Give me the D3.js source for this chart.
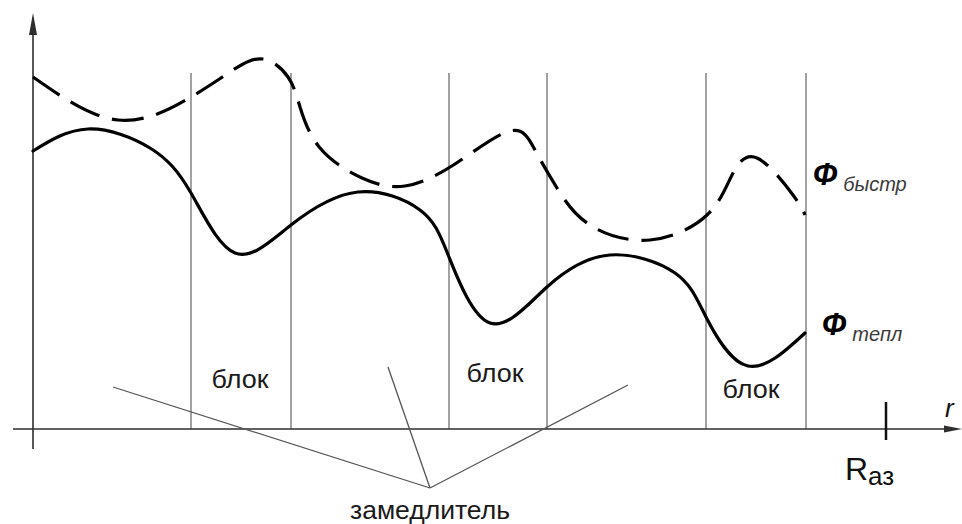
<!DOCTYPE html>
<html>
<head>
<meta charset="utf-8">
<script src="https://cdn.jsdelivr.net/npm/d3@7"></script>
<style>
  html, body { margin: 0; padding: 0; background: #fff; }
  svg { display: block; }
  text { font-family: "Liberation Sans", Arial, sans-serif; }
</style>
</head>
<body>
<svg id="chart" width="962" height="524"></svg>
<script>
// ---- data (arbitrary units: r along axis, flux upward) ----
const blockEdges = [158, 258, 416, 514, 673, 773];          // r positions of block boundaries
const blockLabelR = [207, 462, 718];                          // r of "блок" labels
const blockLabelFlux = [41, 47, 31];
const rAz = 853;                                              // reactor core radius tick
const thermalR    = [0, 55, 117, 158, 202, 258, 325, 387, 416, 457, 514, 577, 642, 673, 715, 772];
const thermalFlux = [278, 300, 281, 236, 176, 204, 237, 219, 172, 106, 142, 174, 156, 112, 63, 96];
const fastR    = [0, 85, 158, 200, 230, 255, 267, 287, 329, 372, 422, 477, 502, 524, 557, 617, 674, 699, 724, 760, 772];
const fastFlux = [352, 309, 332, 359, 370, 352, 322, 281, 251, 243, 265, 298, 279, 241, 204, 189, 214, 254, 271, 234, 214];
const pointerFrom = [[80, 42], [355, 62], [595, 44]];         // start of "замедлитель" leader lines
const pointerTo   = [397, -59];
const labels = {
  fast: ["Ф", "быстр"], thermal: ["Ф", "тепл"], moderator: "замедлитель",
  block: "блок", axisR: "r", rAz: ["R", "аз"]
};

// ---- scales ----
const svg = d3.select("#chart");
const x = d3.scaleLinear().domain([0, 930]).range([33, 963]);
const y = d3.scaleLinear().domain([0, 416]).range([429, 13]);

// ---- block boundaries ----
svg.append("g").selectAll("line").data(blockEdges).join("line")
  .attr("x1", d => x(d)).attr("x2", d => x(d))
  .attr("y1", y(356)).attr("y2", y(0))
  .attr("stroke", "#7a7a7a").attr("stroke-width", 1.4);

// ---- axes ----
const axisColor = "#2e2e2e";
svg.append("line").attr("x1", x(-20)).attr("x2", x(915)).attr("y1", y(0)).attr("y2", y(0))
  .attr("stroke", axisColor).attr("stroke-width", 1.6);
svg.append("line").attr("x1", x(0)).attr("x2", x(0)).attr("y1", y(-20)).attr("y2", y(398))
  .attr("stroke", axisColor).attr("stroke-width", 1.6);
// arrow heads
svg.append("path")
  .attr("d", `M${x(0)},${y(416)} L${x(0) - 4},${y(394)} L${x(0) + 4},${y(394)} Z`)
  .attr("fill", axisColor);
svg.append("path")
  .attr("d", `M${x(929)},${y(0)} L${x(911)},${y(0) - 3.5} L${x(911)},${y(0) + 3.5} Z`)
  .attr("fill", axisColor);
// R_az tick
svg.append("line").attr("x1", x(rAz)).attr("x2", x(rAz)).attr("y1", y(27)).attr("y2", y(-11))
  .attr("stroke", "#111").attr("stroke-width", 2.5);

// ---- curves ----
const line = d3.line().x(d => x(d[0])).y(d => y(d[1])).curve(d3.curveNatural);
svg.append("path").datum(d3.zip(thermalR, thermalFlux)).attr("d", line)
  .attr("fill", "none").attr("stroke", "#000").attr("stroke-width", 3.2)
  .attr("stroke-linecap", "round");
svg.append("path").datum(d3.zip(fastR, fastFlux)).attr("d", line)
  .attr("fill", "none").attr("stroke", "#000").attr("stroke-width", 3.2)
  .attr("stroke-dasharray", "32,13");

// ---- leader lines ----
svg.append("g").selectAll("line").data(pointerFrom).join("line")
  .attr("x1", d => x(d[0])).attr("y1", d => y(d[1]))
  .attr("x2", x(pointerTo[0])).attr("y2", y(pointerTo[1]))
  .attr("stroke", "#555").attr("stroke-width", 1.3);

// ---- labels ----
svg.append("g").selectAll("text").data(blockLabelR).join("text")
  .attr("x", d => x(d)).attr("y", (d, i) => y(blockLabelFlux[i]))
  .attr("text-anchor", "middle").attr("font-size", 25).attr("fill", "#1a1a1a")
  .attr("textLength", 57).attr("lengthAdjust", "spacingAndGlyphs")
  .text(labels.block);

svg.append("text").attr("x", x(397)).attr("y", y(-90))
  .attr("text-anchor", "middle").attr("font-size", 25).attr("fill", "#1a1a1a")
  .attr("textLength", 160).attr("lengthAdjust", "spacingAndGlyphs")
  .text(labels.moderator);

function fluxLabel(lbl, fx, fy) {
  const t = svg.append("text").attr("x", x(fx)).attr("y", y(fy));
  t.append("tspan").attr("font-size", 31).attr("font-style", "italic").attr("fill", "#000")
    .attr("font-weight", "bold").text(lbl[0]);
  t.append("tspan").attr("dx", 6).attr("dy", 6).attr("font-size", 20).attr("font-style", "italic")
    .attr("fill", "#3a3a3a").text(lbl[1]);
}
fluxLabel(labels.fast, 780, 244);
fluxLabel(labels.thermal, 789, 94);

svg.append("text").attr("x", x(912)).attr("y", y(12))
  .attr("font-size", 26).attr("font-style", "italic").attr("fill", "#111").text(labels.axisR);

const rz = svg.append("text").attr("x", x(812)).attr("y", y(-51)).attr("fill", "#111");
rz.append("tspan").attr("font-size", 32).text(labels.rAz[0]);
rz.append("tspan").attr("dy", 5).attr("font-size", 26).text(labels.rAz[1]);
</script>
</body>
</html>
